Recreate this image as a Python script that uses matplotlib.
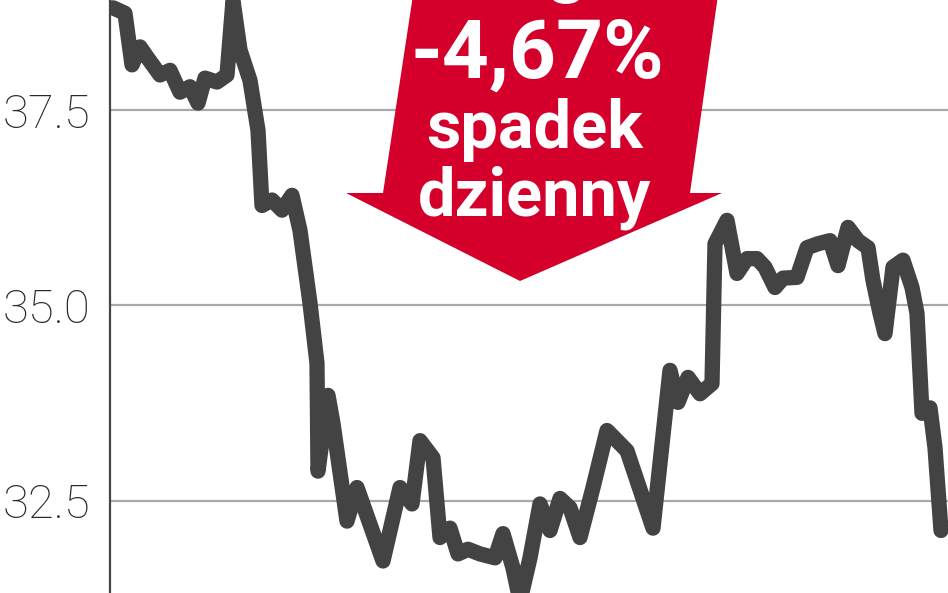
import matplotlib.pyplot as plt
from matplotlib.patches import Polygon, Ellipse

# sesje (kolejne dni notowań) i kurs zamknięcia
dni = [0, 3, 4.75, 6.75, 8.5, 11.75, 14.25, 16.75, 19.25, 21.25, 23, 26, 28.5, 30,
       31.75, 34.25, 36.25, 37.25, 39.75, 42.25, 44.75, 46.75, 49.25, 51, 51.25,
       53.75, 55, 58.5, 61, 67.5, 71.75, 74.75, 76.75, 80, 81.75, 84.25, 86.25,
       88.75, 91.75, 95.5, 97.5, 100, 101.75, 104.25, 106.75, 109.25, 111.75,
       114.25, 116.75, 120, 123.5, 128.5, 135, 139.25, 141.25, 143.75, 146.75,
       149.75, 150.5, 153.5, 156, 158.5, 161, 163, 165.5, 167.5, 171, 173.5,
       176.25, 179.25, 181.25, 183.75, 186.25, 188.75, 190, 191.75, 193, 195,
       197.5, 199.75, 201, 202.25, 204.25, 205.5, 207]
kurs = [38.81, 38.74, 38.08, 38.31, 38.18, 37.95, 38.01, 37.73, 37.80, 37.59,
        37.91, 37.86, 37.95, 38.90, 38.27, 37.88, 37.24, 36.28, 36.35, 36.22,
        36.41, 35.96, 35.03, 34.26, 32.88, 33.85, 33.49, 32.24, 32.67, 31.73,
        32.67, 32.46, 33.27, 33.05, 32.03, 32.15, 31.82, 31.88, 31.82, 31.77,
        32.08, 31.64, 31.22, 31.77, 32.46, 32.12, 32.53, 32.41, 32.03, 32.67,
        33.40, 33.14, 32.15, 34.17, 33.76, 34.08, 33.87, 34.00, 35.79, 36.09,
        35.41, 35.60, 35.60, 35.49, 35.23, 35.35, 35.36, 35.74, 35.79, 35.83,
        35.51, 36.00, 35.83, 35.74, 35.32, 34.90, 34.64, 35.49, 35.58, 35.23,
        34.90, 33.62, 33.69, 33.18, 32.12]

poziomy = [32.5, 35.0, 37.5]
etykiety = ["32.5", "35.0", "37.5"]
spadek = "-4,67%"

W, H = 948, 593
fig = plt.figure(figsize=(W / 100, H / 100), dpi=100)
ax = fig.add_axes([110 / W, 0, (W - 110) / W, 1])

ax.set_xlim(-0.75, 208.75)
ax.set_ylim(31.32, 38.91)

for p in poziomy:
    ax.axhline(p, color="#a8a8a8", lw=1.6, zorder=1)

ax.plot(dni, kurs, color="#434343", lw=11, solid_joinstyle="round",
        solid_capstyle="round", zorder=3)

for s in ["top", "right", "bottom"]:
    ax.spines[s].set_visible(False)
ax.spines["left"].set_color("#444444")
ax.spines["left"].set_linewidth(1.6)
ax.set_xticks([])
ax.set_yticks(poziomy)
ax.set_yticklabels(etykiety)
ax.tick_params(axis="y", length=0, pad=14, labelsize=34, labelcolor="#2a2a2a")
for t in ax.get_yticklabels():
    t.set_fontfamily("Roboto")
    t.set_fontweight("light")

# czerwona strzałka z opisem
def fx(px, py):
    return (px / W, 1 - py / H)

ksztalt = [fx(413, -5), fx(718, -5), fx(690, 193), fx(722, 193),
           fx(520, 281), fx(346, 193), fx(383, 193)]
fig.patches.append(Polygon(ksztalt, closed=True, transform=fig.transFigure,
                           facecolor="#d4002b", edgecolor="none", zorder=5))
fig.patches.append(Ellipse(fx(566, -3), 28 / W, 14 / H, transform=fig.transFigure,
                           facecolor="white", edgecolor="none", zorder=6))

fig.text(537 / W, 1 - 78 / H, spadek, color="white", fontsize=59,
         fontfamily="Roboto", fontweight="bold", ha="center", va="baseline", zorder=7)
fig.text(534 / W, 1 - 148 / H, "spadek", color="white", fontsize=48,
         fontfamily="Roboto", fontweight="bold", ha="center", va="baseline", zorder=7)
fig.text(535 / W, 1 - 215 / H, "dzienny", color="white", fontsize=48,
         fontfamily="Roboto", fontweight="bold", ha="center", va="baseline", zorder=7)

fig.savefig("out.png", dpi=100)
